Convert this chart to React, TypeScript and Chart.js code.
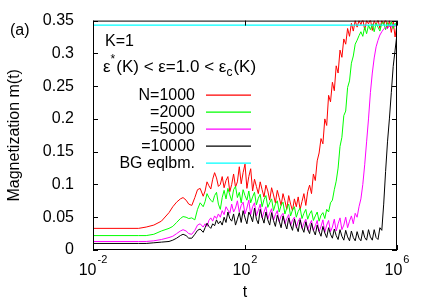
import { useEffect, useRef } from "react";
import { Chart, registerables } from "chart.js";

Chart.register(...registerables);

const FONT = '"Liberation Sans", Arial, Helvetica, sans-serif';

// log10(t) sample positions
const LOG_T = [
  -2, -1.5, -1, -0.8, -0.6, -0.4, -0.2, 0, 0.1, 0.2, 0.3, 0.37, 0.45, 0.52, 0.6, 0.68, 0.75, 0.82, 0.9,
  0.95, 1.0, 1.05, 1.1, 1.15, 1.2, 1.25, 1.3, 1.35, 1.4,
  1.45, 1.5, 1.55, 1.6, 1.65, 1.7, 1.75, 1.8, 1.85, 1.9,
  1.95, 2.0, 2.05, 2.1, 2.15, 2.2, 2.25, 2.3, 2.35, 2.4,
  2.45, 2.5, 2.55, 2.6, 2.65, 2.7, 2.75, 2.8, 2.85, 2.9,
  2.95, 3.0, 3.05, 3.1, 3.15, 3.2, 3.25, 3.3, 3.35, 3.4,
  3.45, 3.5, 3.55, 3.6, 3.65, 3.7, 3.75, 3.8, 3.85, 3.9,
  3.95, 4.0, 4.05, 4.1, 4.15, 4.2, 4.25, 4.3, 4.35, 4.4,
  4.45, 4.5, 4.55, 4.6, 4.65, 4.7, 4.75, 4.8, 4.85, 4.9,
  4.95, 5.0, 5.05, 5.1, 5.15, 5.2, 5.25, 5.3, 5.35, 5.4,
  5.45, 5.5, 5.55, 5.6, 5.65, 5.7, 5.75, 5.8, 5.85, 5.9,
  5.95, 6.0,
];

const N1000 = [
  0.033, 0.033, 0.033, 0.033, 0.035, 0.038, 0.044, 0.057, 0.066, 0.073, 0.078, 0.080, 0.076, 0.070, 0.068, 0.080, 0.092, 0.094, 0.082,
  0.090, 0.104, 0.098, 0.093, 0.108, 0.118, 0.110, 0.097, 0.100, 0.112,
  0.095, 0.106, 0.112, 0.089, 0.100, 0.116, 0.096, 0.104, 0.127, 0.101,
  0.118, 0.131, 0.094, 0.112, 0.124, 0.090, 0.108, 0.097, 0.086, 0.104,
  0.092, 0.081, 0.099, 0.090, 0.076, 0.095, 0.084, 0.072, 0.091, 0.080,
  0.068, 0.086, 0.075, 0.062, 0.083, 0.070, 0.060, 0.078, 0.066, 0.081,
  0.062, 0.074, 0.086, 0.068, 0.089, 0.099, 0.086, 0.116, 0.106, 0.136,
  0.148, 0.170, 0.162, 0.200, 0.190, 0.236, 0.226, 0.256, 0.243, 0.281,
  0.270, 0.305, 0.294, 0.322, 0.314, 0.338, 0.326, 0.346, 0.334, 0.350,
  0.340, 0.350, 0.344, 0.352, 0.336, 0.350, 0.345, 0.352, 0.335, 0.350,
  0.343, 0.352, 0.338, 0.350, 0.344, 0.352, 0.338, 0.350, 0.332, 0.348,
  0.325, 0.345,
];

const N2000 = [
  0.022, 0.022, 0.022, 0.022, 0.022, 0.024, 0.029, 0.033, 0.036, 0.042, 0.048, 0.051, 0.050, 0.048, 0.049, 0.046, 0.062, 0.072, 0.066,
  0.074, 0.086, 0.080, 0.076, 0.073, 0.083, 0.088, 0.070, 0.062, 0.080,
  0.091, 0.078, 0.094, 0.084, 0.075, 0.092, 0.097, 0.080, 0.088, 0.072,
  0.092, 0.083, 0.076, 0.090, 0.072, 0.081, 0.088, 0.069, 0.079, 0.085,
  0.066, 0.077, 0.083, 0.065, 0.072, 0.078, 0.060, 0.070, 0.075, 0.058,
  0.068, 0.073, 0.055, 0.064, 0.070, 0.052, 0.061, 0.066, 0.050, 0.059,
  0.064, 0.048, 0.056, 0.062, 0.047, 0.055, 0.060, 0.045, 0.052, 0.058,
  0.044, 0.053, 0.057, 0.048, 0.062, 0.058, 0.072, 0.076, 0.092, 0.105,
  0.125, 0.158, 0.172, 0.205, 0.212, 0.248, 0.258, 0.285, 0.296, 0.314,
  0.320, 0.327, 0.333, 0.326, 0.340, 0.330, 0.343, 0.336, 0.345, 0.333,
  0.346, 0.340, 0.334, 0.346, 0.347, 0.336, 0.347, 0.341, 0.348, 0.338,
  0.346, 0.340,
];

const N5000 = [
  0.013, 0.013, 0.013, 0.013, 0.013, 0.014, 0.016, 0.019, 0.021, 0.025, 0.029, 0.031, 0.029, 0.025, 0.024, 0.030, 0.038, 0.040, 0.035,
  0.040, 0.036, 0.045, 0.049, 0.044, 0.052, 0.048, 0.055, 0.050, 0.060,
  0.054, 0.066, 0.061, 0.056, 0.070, 0.058, 0.064, 0.075, 0.058, 0.068,
  0.073, 0.055, 0.064, 0.076, 0.054, 0.066, 0.072, 0.052, 0.061, 0.070,
  0.049, 0.058, 0.066, 0.047, 0.056, 0.063, 0.045, 0.054, 0.060, 0.043,
  0.052, 0.056, 0.040, 0.048, 0.054, 0.037, 0.046, 0.050, 0.034, 0.044,
  0.049, 0.033, 0.041, 0.047, 0.030, 0.039, 0.045, 0.029, 0.037, 0.045,
  0.028, 0.036, 0.046, 0.027, 0.038, 0.045, 0.028, 0.035, 0.047, 0.029,
  0.040, 0.049, 0.031, 0.038, 0.050, 0.034, 0.044, 0.052, 0.040, 0.056,
  0.050, 0.066, 0.078, 0.100, 0.130, 0.165, 0.200, 0.240, 0.270, 0.293,
  0.310, 0.320, 0.328, 0.333, 0.337, 0.340, 0.338, 0.343, 0.340, 0.344,
  0.341, 0.345,
];

const N10000 = [
  0.010, 0.010, 0.010, 0.010, 0.010, 0.011, 0.012, 0.013, 0.015, 0.018, 0.022, 0.024, 0.022, 0.018, 0.018, 0.024, 0.030, 0.032, 0.027,
  0.034, 0.041, 0.036, 0.033, 0.040, 0.037, 0.046, 0.040, 0.044, 0.038,
  0.050, 0.042, 0.058, 0.048, 0.044, 0.055, 0.038, 0.047, 0.057, 0.042,
  0.060, 0.049, 0.040, 0.058, 0.052, 0.043, 0.064, 0.047, 0.040, 0.062,
  0.050, 0.041, 0.058, 0.046, 0.038, 0.057, 0.045, 0.036, 0.053, 0.044,
  0.034, 0.052, 0.041, 0.032, 0.049, 0.038, 0.030, 0.047, 0.036, 0.028,
  0.046, 0.034, 0.027, 0.043, 0.032, 0.025, 0.041, 0.030, 0.023, 0.038,
  0.028, 0.021, 0.036, 0.026, 0.019, 0.034, 0.024, 0.018, 0.032, 0.022,
  0.016, 0.031, 0.021, 0.015, 0.030, 0.020, 0.014, 0.029, 0.019, 0.014,
  0.028, 0.018, 0.014, 0.030, 0.019, 0.015, 0.031, 0.020, 0.015, 0.031,
  0.019, 0.016, 0.034, 0.030, 0.070, 0.120, 0.165, 0.200, 0.240, 0.280,
  0.305, 0.330,
];

const BG_T = [0.01, 1e6];
const BG_EQLBM = [0.343, 0.343];

const SERIES_LABELS = ["N=1000", "=2000", "=5000", "=10000", "BG eqlbm."];
const SERIES_COLORS = ["#ff0000", "#00ff00", "#ff00ff", "#000000", "#00ffff"];

const X_TICKS = [0.01, 100, 1e6];
const X_TICK_EXPONENTS = ["-2", "2", "6"];
const Y_MIN = 0;
const Y_MAX = 0.35;
const Y_STEP = 0.05;

function toPoints(values: number[]) {
  const n = Math.min(values.length, LOG_T.length);
  const pts: { x: number; y: number }[] = [];
  for (let i = 0; i < n; i++) pts.push({ x: Math.pow(10, LOG_T[i]), y: values[i] });
  return pts;
}

const overlayPlugin = {
  id: "overlay",
  afterDatasetsDraw(chart: any) {
    const { ctx, chartArea } = chart;
    const { left, right, top, bottom } = chartArea;
    const xs = chart.scales.x;
    const ys = chart.scales.y;
    ctx.save();
    ctx.strokeStyle = "#000";
    ctx.lineWidth = 1;
    ctx.strokeRect(left + 0.5, top + 0.5, right - left - 1, bottom - top - 1);
    ctx.beginPath();
    for (const t of ys.ticks) {
      const py = Math.round(ys.getPixelForValue(t.value)) + 0.5;
      ctx.moveTo(left, py);
      ctx.lineTo(left + 5, py);
      ctx.moveTo(right, py);
      ctx.lineTo(right - 5, py);
    }
    for (const v of X_TICKS) {
      const px = Math.round(xs.getPixelForValue(v)) + 0.5;
      ctx.moveTo(px, bottom);
      ctx.lineTo(px, bottom - 5);
      ctx.moveTo(px, top);
      ctx.lineTo(px, top + 5);
    }
    ctx.stroke();

    ctx.fillStyle = "#000";
    ctx.textBaseline = "alphabetic";
    ctx.textAlign = "left";
    X_TICKS.forEach((v, i) => {
      const px = xs.getPixelForValue(v);
      ctx.font = `16px ${FONT}`;
      const w1 = ctx.measureText("10").width;
      ctx.font = `11px ${FONT}`;
      const w2 = ctx.measureText(X_TICK_EXPONENTS[i]).width;
      const start = px - (w1 + w2 + 1) / 2;
      ctx.font = `16px ${FONT}`;
      ctx.fillText("10", start, bottom + 25);
      ctx.font = `11px ${FONT}`;
      ctx.fillText(X_TICK_EXPONENTS[i], start + w1 + 1, bottom + 13);
    });

    ctx.font = `16px ${FONT}`;
    ctx.fillText("(a)", 10, 35);
    ctx.fillText("K=1", left + 12, top + 25);
    let x = left + 10;
    const by = top + 51;
    const parts: [string, number, number][] = [
      ["\u03b5", 17, 0],
      ["*", 12, -9],
      ["(K) < \u03b5=1.0 < \u03b5", 17, 0],
      ["c", 12, 4],
      ["(K)", 17, 0],
    ];
    for (const [txt, size, dy] of parts) {
      ctx.font = `${size}px ${FONT}`;
      ctx.fillText(txt, x, by + dy);
      x += ctx.measureText(txt).width + (size < 16 ? 1 : 0);
    }

    ctx.font = `16px ${FONT}`;
    ctx.textAlign = "right";
    ctx.textBaseline = "middle";
    SERIES_LABELS.forEach((lab, i) => {
      const yy = top + 74 + i * 17;
      ctx.fillStyle = "#000";
      ctx.fillText(lab, left + 102, yy + 1);
      ctx.strokeStyle = SERIES_COLORS[i];
      ctx.lineWidth = 1.2;
      ctx.beginPath();
      ctx.moveTo(left + 113, yy + 0.5);
      ctx.lineTo(left + 158, yy + 0.5);
      ctx.stroke();
    });
    ctx.restore();
  },
};

export default function App() {
  const ref = useRef<HTMLCanvasElement | null>(null);

  useEffect(() => {
    if (!ref.current) return;
    const seriesData = [N1000, N2000, N5000, N10000];
    const datasets: any[] = seriesData.map((vals, i) => ({
      label: SERIES_LABELS[i],
      data: toPoints(vals),
      borderColor: SERIES_COLORS[i],
      backgroundColor: SERIES_COLORS[i],
      borderWidth: 1,
      pointRadius: 0,
      tension: 0,
      order: 4 - i,
    }));
    datasets.push({
      label: SERIES_LABELS[4],
      data: BG_T.map((t, i) => ({ x: t, y: BG_EQLBM[i] })),
      borderColor: SERIES_COLORS[4],
      backgroundColor: SERIES_COLORS[4],
      borderWidth: 1.2,
      pointRadius: 0,
      order: 0,
    });

    const chart = new Chart(ref.current, {
      type: "line",
      data: { datasets },
      options: {
        animation: false,
        responsive: false,
        devicePixelRatio: 1,
        layout: { padding: { top: 20, right: 39, left: 0, bottom: 0 } },
        plugins: { legend: { display: false }, tooltip: { enabled: false } },
        scales: {
          x: {
            type: "logarithmic",
            min: 0.01,
            max: 1e6,
            grid: { display: false },
            border: { display: false },
            ticks: { display: false },
            afterBuildTicks: (s: any) => {
              s.ticks = X_TICKS.map((v) => ({ value: v }));
            },
            afterFit: (s: any) => {
              s.height = 55;
            },
            title: {
              display: true,
              text: "t",
              color: "#000",
              font: { family: FONT, size: 16 },
              padding: { top: 0, bottom: 3 },
            },
          },
          y: {
            type: "linear",
            min: Y_MIN,
            max: Y_MAX,
            grid: { display: false },
            border: { display: false },
            ticks: {
              stepSize: Y_STEP,
              padding: 11,
              color: "#000",
              font: { family: FONT, size: 16 },
              callback: (v: any) => String(+Number(v).toFixed(2)),
            },
            afterFit: (s: any) => {
              s.width = 93;
            },
            title: {
              display: true,
              text: "Magnetization m(t)",
              color: "#000",
              font: { family: FONT, size: 16 },
              padding: { top: 5, bottom: 0 },
            },
          },
        },
      } as any,
      plugins: [overlayPlugin],
    });
    return () => chart.destroy();
  }, []);

  return (
    <div style={{ position: "fixed", left: 0, top: 0, width: 436, height: 305, background: "#fff" }}>
      <canvas ref={ref} width={436} height={305} style={{ width: 436, height: 305 }} />
    </div>
  );
}
